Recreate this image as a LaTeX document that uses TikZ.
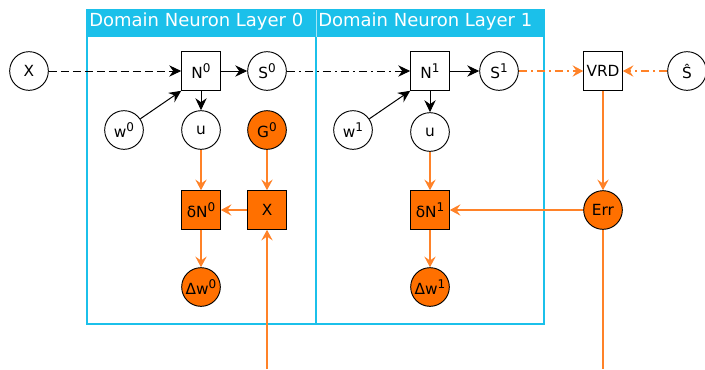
\documentclass[tikz,border=0pt]{standalone}
\usepackage{fontspec}
\setmainfont{DejaVu Sans}
\usetikzlibrary{arrows.meta, positioning}

\definecolor{layercyan}{RGB}{27,192,234}
\definecolor{gradorange}{RGB}{255,112,0}
\definecolor{lineorange}{RGB}{255,130,40}
\newcommand{\layidx}[1]{\raisebox{0.75ex}{\fontsize{9}{9}\selectfont #1}}

\begin{document}
\begin{tikzpicture}[x=0.75pt, y=-0.75pt, font=\fontsize{11.5}{13}\selectfont,
    var/.style={circle, draw, line width=0.7pt, minimum size=29pt, inner sep=0pt},
    op/.style={rectangle, draw, line width=0.7pt, minimum size=29pt, inner sep=0pt},
    grad/.style={fill=gradorange},
    title/.style={anchor=west, text=white, inner sep=0pt, font=\fontsize{13.5}{15}\selectfont},
    fwd/.style={-{Stealth[length=9pt, width=8.5pt, inset=3pt]}, line width=0.75pt},
    bwd/.style={-{Stealth[length=8pt, width=8.5pt, inset=3pt]}, lineorange, line width=0.9pt},
    dashdot/.style={dash pattern=on 6pt off 3pt on 1.5pt off 3pt}]
\useasboundingbox (0,0) rectangle (705,369);

% layers
\draw[layercyan, line width=1.1pt] (87,10) rectangle (316,324);
\draw[layercyan, line width=1.1pt] (316,10) rectangle (544,324);
\fill[layercyan] (87,10) rectangle (544,37);
\draw[white!60!layercyan, line width=0.6pt] (316,10) -- (316,37);
\node [title] (title0) at (89,22) {Domain Neuron Layer 0};
\node [title] (title1) at (318,22) {Domain Neuron Layer 1};

% forward
\node [var] (x) at (29,71) {X};
\node [op] (n0) at (201,71) {N\layidx{0}};
\node [var] (s0) at (267,71) {S\layidx{0}};
\node [var] (w0) at (124,130) {w\layidx{0}};
\node [var] (u0) at (201,130) {u};
\node [var, grad] (g0) at (267,130) {G\layidx{0}};
\node [op] (n1) at (430,71) {N\layidx{1}};
\node [var] (s1) at (499,71) {S\layidx{1}};
\node [var] (w1) at (353,130) {w\layidx{1}};
\node [var] (u1) at (430,132) {u};
\node [op] (vrd) at (603,71) {VRD};
\node [var] (shat) at (687,71) {Ŝ};

% backward
\node [op, grad] (dn0) at (201,210) {δN\layidx{0}};
\node [op, grad] (mul0) at (267,210) {X};
\node [var, grad] (dw0) at (201,287) {Δw\layidx{0}};
\node [op, grad] (dn1) at (430,210) {δN\layidx{1}};
\node [var, grad] (dw1) at (430,287) {Δw\layidx{1}};
\node [var, grad] (err) at (603,210) {Err};
\coordinate (in0) at (267,369);
\coordinate (out) at (603,369);

\draw [fwd, dash pattern=on 6pt off 3pt] (x) -- (n0);
\draw [fwd] (n0) -- (s0);
\draw [fwd] (n0) -- (u0);
\draw [fwd] (w0) -- (n0.south west);
\draw [fwd, dashdot] (s0) -- (n1);
\draw [fwd] (n1) -- (s1);
\draw [fwd] (n1) -- (u1);
\draw [fwd] (w1) -- (n1.south west);
\draw [bwd, dashdot] (s1) -- (vrd);
\draw [bwd, dashdot] (shat) -- (vrd);

\draw [bwd] (u0) -- (dn0);
\draw [bwd] (g0) -- (mul0);
\draw [bwd] (mul0) -- (dn0);
\draw [bwd] (dn0) -- (dw0);
\draw [bwd] (in0) -- (mul0);
\draw [bwd] (vrd) -- (err);
\draw [bwd] (err) -- (dn1);
\draw [bwd] (u1) -- (dn1);
\draw [bwd] (dn1) -- (dw1);
\draw [lineorange, line width=0.9pt] (err) -- (out);
\end{tikzpicture}
\end{document}
